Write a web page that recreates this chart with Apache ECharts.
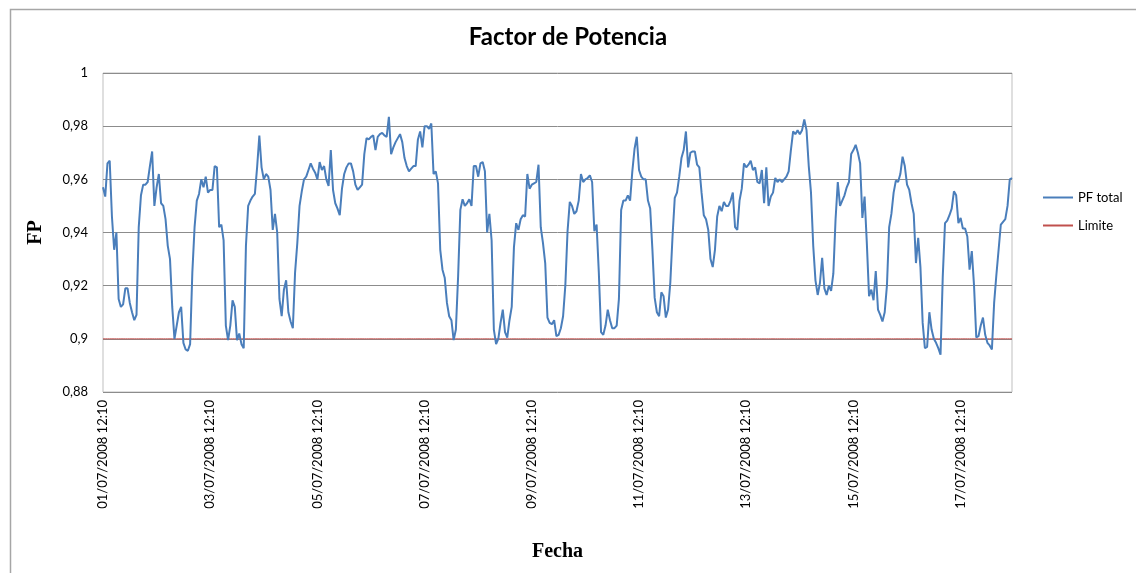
<!DOCTYPE html>
<html>
<head>
<meta charset="utf-8">
<title>Factor de Potencia</title>
<script src="https://cdn.jsdelivr.net/npm/echarts@6/dist/echarts.min.js"></script>
<style>
  html, body { margin: 0; padding: 0; background: #fff; }
  #chart { width: 1136px; height: 573px; }
</style>
</head>
<body>
<div id="chart"></div>
<script>
// Hourly power factor readings, 01/07/2008 12:10 onwards (one row = 24 h)
const pfTotal = [
  0.957, 0.9535, 0.966, 0.967, 0.946, 0.9335, 0.94, 0.915, 0.912, 0.913, 0.919, 0.919, 0.9135, 0.91, 0.907, 0.909, 0.942, 0.954, 0.958, 0.958, 0.959, 0.965, 0.9705, 0.95,
  0.957, 0.962, 0.951, 0.95, 0.945, 0.935, 0.93, 0.912, 0.90, 0.905, 0.91, 0.912, 0.8985, 0.896, 0.8955, 0.898, 0.925, 0.942, 0.952, 0.9545, 0.96, 0.957, 0.961, 0.955,
  0.956, 0.956, 0.965, 0.9645, 0.942, 0.943, 0.937, 0.905, 0.8995, 0.905, 0.9145, 0.912, 0.8995, 0.902, 0.898, 0.8965, 0.935, 0.95, 0.952, 0.9535, 0.9545, 0.9645, 0.9765, 0.9645,
  0.96, 0.962, 0.961, 0.956, 0.941, 0.947, 0.94, 0.915, 0.9085, 0.9185, 0.922, 0.91, 0.9065, 0.904, 0.925, 0.936, 0.95, 0.9555, 0.96, 0.961, 0.9635, 0.966, 0.964, 0.9625,
  0.96, 0.9665, 0.9635, 0.965, 0.96, 0.9575, 0.971, 0.956, 0.951, 0.949, 0.9465, 0.9565, 0.962, 0.9645, 0.966, 0.966, 0.963, 0.958, 0.956, 0.957, 0.958, 0.9695, 0.9755, 0.975,
  0.976, 0.9765, 0.971, 0.976, 0.977, 0.9775, 0.9765, 0.976, 0.9835, 0.9695, 0.972, 0.974, 0.9755, 0.977, 0.974, 0.968, 0.965, 0.963, 0.964, 0.965, 0.965, 0.975, 0.978, 0.972,
  0.98, 0.98, 0.979, 0.981, 0.962, 0.963, 0.9585, 0.9335, 0.926, 0.923, 0.9135, 0.9085, 0.907, 0.8995, 0.9035, 0.9235, 0.9485, 0.9525, 0.95, 0.951, 0.9525, 0.95, 0.965, 0.965,
  0.961, 0.966, 0.9665, 0.963, 0.94, 0.947, 0.937, 0.9035, 0.898, 0.90, 0.906, 0.911, 0.9025, 0.9005, 0.907, 0.912, 0.9345, 0.9435, 0.941, 0.945, 0.9465, 0.946, 0.962, 0.9565,
  0.958, 0.9585, 0.959, 0.9655, 0.942, 0.936, 0.9285, 0.908, 0.906, 0.9055, 0.907, 0.901, 0.9015, 0.904, 0.9085, 0.92, 0.9405, 0.9515, 0.95, 0.947, 0.948, 0.952, 0.962, 0.959,
  0.96, 0.9605, 0.9615, 0.959, 0.9405, 0.943, 0.925, 0.9025, 0.9015, 0.905, 0.911, 0.907, 0.904, 0.904, 0.905, 0.915, 0.9485, 0.952, 0.952, 0.954, 0.952, 0.963, 0.9715, 0.976,
  0.9635, 0.961, 0.96, 0.96, 0.952, 0.949, 0.9335, 0.9155, 0.91, 0.9085, 0.9175, 0.916, 0.908, 0.911, 0.921, 0.9385, 0.953, 0.955, 0.961, 0.968, 0.971, 0.978, 0.9645, 0.97,
  0.9705, 0.9705, 0.9655, 0.9645, 0.955, 0.9465, 0.945, 0.941, 0.93, 0.927, 0.9335, 0.946, 0.95, 0.948, 0.9515, 0.95, 0.95, 0.952, 0.955, 0.942, 0.941, 0.952, 0.9565, 0.966,
  0.9645, 0.9655, 0.967, 0.9635, 0.9645, 0.959, 0.9585, 0.9635, 0.951, 0.9645, 0.95, 0.9535, 0.955, 0.9605, 0.959, 0.96, 0.959, 0.96, 0.961, 0.963, 0.971, 0.978, 0.977, 0.9785,
  0.977, 0.9785, 0.9825, 0.9785, 0.965, 0.955, 0.935, 0.922, 0.9165, 0.921, 0.9305, 0.919, 0.9165, 0.92, 0.918, 0.9245, 0.945, 0.959, 0.95, 0.952, 0.954, 0.957, 0.959, 0.9695,
  0.971, 0.973, 0.97, 0.966, 0.9455, 0.9535, 0.936, 0.916, 0.9185, 0.9145, 0.9255, 0.911, 0.909, 0.9065, 0.91, 0.92, 0.942, 0.947, 0.955, 0.9595, 0.959, 0.962, 0.9685, 0.965,
  0.958, 0.956, 0.951, 0.947, 0.9285, 0.938, 0.927, 0.906, 0.8965, 0.897, 0.91, 0.9035, 0.90, 0.8985, 0.8965, 0.894, 0.9235, 0.9435, 0.9445, 0.9465, 0.949, 0.9555, 0.954, 0.9435,
  0.9455, 0.9415, 0.9415, 0.9385, 0.926, 0.933, 0.92, 0.9005, 0.901, 0.905, 0.908, 0.9015, 0.8985, 0.8975, 0.896, 0.9135, 0.924, 0.9335, 0.943, 0.944, 0.945, 0.95, 0.96, 0.9605
];

// Contractual lower limit for the power factor
const limiteValue = 0.9;

// Y axis range
const yMin = 0.88;
const yMax = 1;
const yStep = 0.02;

// Timestamp labels: hourly, starting 01/07/2008 12:10
const startDay = 1;
const startHour = 12;
const categories = pfTotal.map(function (_, i) {
  const totalH = startHour + i;
  const day = startDay + Math.floor(totalH / 24);
  const hour = totalH % 24;
  const dd = String(day).padStart(2, '0');
  const hh = String(hour).padStart(2, '0');
  return dd + '/07/2008 ' + hh + ':10';
});
const limite = pfTotal.map(function () { return limiteValue; });

const chart = echarts.init(document.getElementById('chart'), null, { renderer: 'canvas' });

const labelFont = 'Lato, "Open Sans", sans-serif';

chart.setOption({
  animation: false,
  backgroundColor: '#ffffff',
  graphic: [{
    type: 'rect',
    left: 8, top: 7,
    shape: { width: 1200, height: 700 },
    style: { fill: 'none', stroke: '#a6a6a6', lineWidth: 1.5 },
    silent: true
  }],
  title: {
    text: 'Factor de Potencia',
    left: 'center',
    top: 20,
    textStyle: { fontFamily: labelFont, fontWeight: 'bold', fontSize: 24, color: '#000' }
  },
  legend: {
    orient: 'vertical',
    left: 1043,
    top: 191,
    padding: 0,
    itemWidth: 30,
    itemHeight: 2,
    itemGap: 15,
    textStyle: { fontFamily: labelFont, fontSize: 13, color: '#000' },
    data: [
      { name: 'PF total', icon: 'rect' },
      { name: 'Limite', icon: 'rect' }
    ]
  },
  grid: {
    left: 103, right: 124, top: 73, bottom: 181,
    show: true, borderColor: '#bfbfbf', borderWidth: 1
  },
  xAxis: {
    type: 'category',
    data: categories,
    boundaryGap: false,
    name: 'Fecha',
    nameLocation: 'middle',
    nameGap: 150,
    nameTextStyle: { fontFamily: '"Liberation Serif", serif', fontWeight: 'bold', fontSize: 20, color: '#000' },
    axisLine: { show: false },
    axisTick: { show: false },
    axisLabel: {
      interval: 47,
      rotate: 90,
      margin: 8,
      fontFamily: labelFont,
      fontSize: 13,
      color: '#000'
    },
    splitLine: { show: false }
  },
  yAxis: {
    type: 'value',
    min: yMin,
    max: yMax,
    interval: yStep,
    name: 'FP',
    nameLocation: 'middle',
    nameGap: 57,
    nameRotate: 90,
    nameTextStyle: { fontFamily: '"Liberation Serif", serif', fontWeight: 'bold', fontSize: 20, color: '#000' },
    axisLine: { show: false },
    axisTick: { show: false },
    axisLabel: {
      margin: 15,
      fontFamily: labelFont,
      fontSize: 13,
      color: '#000',
      formatter: function (v) {
        return String(Math.round(v * 100) / 100).replace('.', ',');
      }
    },
    splitLine: { lineStyle: { color: '#8c8c8c', width: 1 } }
  },
  series: [
    {
      name: 'PF total',
      type: 'line',
      data: pfTotal,
      showSymbol: false,
      symbol: 'none',
      color: '#4a7ebb',
      lineStyle: { color: '#4a7ebb', width: 2 },
      z: 3
    },
    {
      name: 'Limite',
      type: 'line',
      data: limite,
      showSymbol: false,
      symbol: 'none',
      color: '#c0504d',
      lineStyle: { color: '#c0504d', width: 1 },
      z: 2
    }
  ]
});
</script>
</body>
</html>
